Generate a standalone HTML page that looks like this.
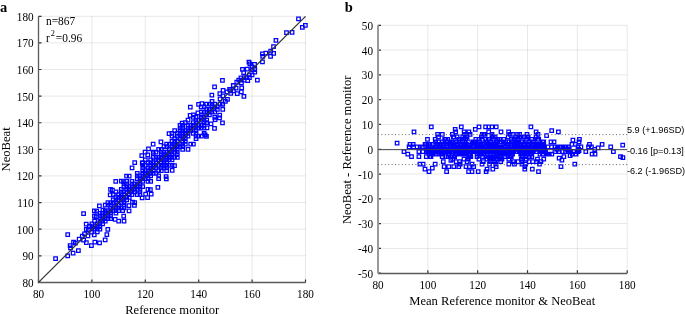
<!DOCTYPE html>
<html><head><meta charset="utf-8"><style>
html,body{margin:0;padding:0;background:#fff;}
svg{display:block;}
</style></head><body>
<svg width="685" height="314" viewBox="0 0 685 314">
<rect width="685" height="314" fill="#fff"/>
<path d="M38.5 255.79H305.5M38.5 229.18H305.5M38.5 202.57H305.5M38.5 175.96H305.5M38.5 149.35H305.5M38.5 122.74H305.5M38.5 96.13H305.5M38.5 69.52H305.5M38.5 42.91H305.5M38.5 16.3H305.5M378 248.41H627.2M378 223.62H627.2M378 198.83H627.2M378 174.04H627.2M378 149.25H627.2M378 124.46H627.2M378 99.67H627.2M378 74.88H627.2M378 50.09H627.2M378 25.3H627.2" stroke="#000" stroke-opacity="0.095" stroke-width="1" fill="none"/>
<path d="M91.9 282.4V16.3M145.3 282.4V16.3M198.7 282.4V16.3M252.1 282.4V16.3M305.5 282.4V16.3M427.84 273.2V25.3M477.68 273.2V25.3M527.52 273.2V25.3M577.36 273.2V25.3M627.2 273.2V25.3" stroke="#000" stroke-opacity="0.095" stroke-width="1" fill="none"/>
<path d="M38.5 282.4h3M38.5 255.79h3M38.5 229.18h3M38.5 202.57h3M38.5 175.96h3M38.5 149.35h3M38.5 122.74h3M38.5 96.13h3M38.5 69.52h3M38.5 42.91h3M38.5 16.3h3M38.5 282.4v-3M91.9 282.4v-3M145.3 282.4v-3M198.7 282.4v-3M252.1 282.4v-3M305.5 282.4v-3M378 273.2h3M378 248.41h3M378 223.62h3M378 198.83h3M378 174.04h3M378 149.25h3M378 124.46h3M378 99.67h3M378 74.88h3M378 50.09h3M378 25.3h3M378 273.2v-3M427.84 273.2v-3M477.68 273.2v-3M527.52 273.2v-3M577.36 273.2v-3M627.2 273.2v-3" stroke="#333333" stroke-width="1.2" fill="none"/>
<path d="M38.5 16.3V282.5H305.5" stroke="#5a5a5a" stroke-width="1.3" fill="none"/>
<path d="M378 273.5H627.2" stroke="#5a5a5a" stroke-width="1.3" fill="none"/>
<path d="M378 25.3V273.2" stroke="#999" stroke-width="2" fill="none"/>
<path d="M53.85 256.9h3.5v3.5h-3.5zM65.98 232.9h3.5v3.5h-3.5zM68.37 243.82h3.5v3.5h-3.5zM71.79 240.4h3.5v3.5h-3.5zM68.74 246.11h3.5v3.5h-3.5zM73.56 241.31h3.5v3.5h-3.5zM77.41 237.46h3.5v3.5h-3.5zM80.52 234.36h3.5v3.5h-3.5zM82.77 232.12h3.5v3.5h-3.5zM84.54 227.69h3.5v3.5h-3.5zM84.45 222.47h3.5v3.5h-3.5zM86.63 228.28h3.5v3.5h-3.5zM65.94 254.22h3.5v3.5h-3.5zM87.87 224.38h3.5v3.5h-3.5zM71.35 251.49h3.5v3.5h-3.5zM76.65 248.87h3.5v3.5h-3.5zM84.58 240.97h3.5v3.5h-3.5zM81.91 238.31h3.5v3.5h-3.5zM86.19 234.04h3.5v3.5h-3.5zM89.84 230.4h3.5v3.5h-3.5zM92.51 233.07h3.5v3.5h-3.5zM89.65 243.89h3.5v3.5h-3.5zM93.08 240.47h3.5v3.5h-3.5zM97.79 241.11h3.5v3.5h-3.5zM81.84 211.76h3.5v3.5h-3.5zM113.99 179.73h3.5v3.5h-3.5zM108.78 187.57h3.5v3.5h-3.5zM110.65 188.37h3.5v3.5h-3.5zM119.66 179.4h3.5v3.5h-3.5zM124.8 174.27h3.5v3.5h-3.5zM130.32 166.11h3.5v3.5h-3.5zM92.6 209.03h3.5v3.5h-3.5zM97.63 204.01h3.5v3.5h-3.5zM108.45 193.22h3.5v3.5h-3.5zM121.74 179.98h3.5v3.5h-3.5zM127.42 174.32h3.5v3.5h-3.5zM92.7 214.25h3.5v3.5h-3.5zM94.9 209.39h3.5v3.5h-3.5zM94.46 215.15h3.5v3.5h-3.5zM98.1 211.52h3.5v3.5h-3.5zM101.21 208.42h3.5v3.5h-3.5zM103.41 238.17h3.5v3.5h-3.5zM105.08 232.78h3.5v3.5h-3.5zM106.05 227.55h3.5v3.5h-3.5zM116.92 219.38h3.5v3.5h-3.5zM121.95 214.36h3.5v3.5h-3.5zM127.31 209.02h3.5v3.5h-3.5zM132.67 203.68h3.5v3.5h-3.5zM122.27 219.37h3.5v3.5h-3.5zM140.38 196h3.5v3.5h-3.5zM143.92 192.47h3.5v3.5h-3.5zM148.63 187.77h3.5v3.5h-3.5zM145.84 195.88h3.5v3.5h-3.5zM149.48 192.25h3.5v3.5h-3.5zM156.12 185.63h3.5v3.5h-3.5zM113.39 217.57h3.5v3.5h-3.5zM120.86 208.79h3.5v3.5h-3.5zM127.21 203.8h3.5v3.5h-3.5zM130.75 200.28h3.5v3.5h-3.5zM132.95 160.83h3.5v3.5h-3.5zM140.02 153.78h3.5v3.5h-3.5zM143.34 150.47h3.5v3.5h-3.5zM146.77 147.05h3.5v3.5h-3.5zM151.38 142.46h3.5v3.5h-3.5zM146.01 153.13h3.5v3.5h-3.5zM159.19 140h3.5v3.5h-3.5zM167.33 131.88h3.5v3.5h-3.5zM140.49 161.29h3.5v3.5h-3.5zM151.6 151.86h3.5v3.5h-3.5zM180.45 121.46h3.5v3.5h-3.5zM188.38 113.56h3.5v3.5h-3.5zM164.59 177.19h3.5v3.5h-3.5zM164.32 174.8h3.5v3.5h-3.5zM170.43 168.71h3.5v3.5h-3.5zM172.74 163.75h3.5v3.5h-3.5zM204.72 134.54h3.5v3.5h-3.5zM203.38 133.21h3.5v3.5h-3.5zM188.56 105.41h3.5v3.5h-3.5zM196.8 102.51h3.5v3.5h-3.5zM200.17 101.82h3.5v3.5h-3.5zM199.47 105.18h3.5v3.5h-3.5zM210.1 93.34h3.5v3.5h-3.5zM212.81 85.16h3.5v3.5h-3.5zM220.69 78.7h3.5v3.5h-3.5zM218.1 91.93h3.5v3.5h-3.5zM221.32 88.72h3.5v3.5h-3.5zM240.7 67.68h3.5v3.5h-3.5zM241.94 70.83h3.5v3.5h-3.5zM245.47 67.31h3.5v3.5h-3.5zM196.2 111.1h3.5v3.5h-3.5zM221.2 94.16h3.5v3.5h-3.5zM225.27 90.1h3.5v3.5h-3.5zM227.84 87.54h3.5v3.5h-3.5zM231.49 83.91h3.5v3.5h-3.5zM235.02 80.39h3.5v3.5h-3.5zM239.2 76.22h3.5v3.5h-3.5zM212.75 126.53h3.5v3.5h-3.5zM220.73 121.24h3.5v3.5h-3.5zM217.8 116.18h3.5v3.5h-3.5zM242.17 94.55h3.5v3.5h-3.5zM255.62 78.49h3.5v3.5h-3.5zM235.5 91.96h3.5v3.5h-3.5zM239.57 90.05h3.5v3.5h-3.5zM239.93 86.13h3.5v3.5h-3.5zM245.99 78.93h3.5v3.5h-3.5zM220.6 102.74h3.5v3.5h-3.5zM225.74 97.62h3.5v3.5h-3.5zM205.21 126.06h3.5v3.5h-3.5zM209.28 122h3.5v3.5h-3.5zM213.35 117.95h3.5v3.5h-3.5zM217.96 113.36h3.5v3.5h-3.5zM247.2 60.27h3.5v3.5h-3.5zM248.1 62.03h3.5v3.5h-3.5zM252.81 62.66h3.5v3.5h-3.5zM260.69 52.15h3.5v3.5h-3.5zM260.95 54.54h3.5v3.5h-3.5zM264.06 51.45h3.5v3.5h-3.5zM268.93 49.25h3.5v3.5h-3.5zM271.79 44.85h3.5v3.5h-3.5zM274.19 38.69h3.5v3.5h-3.5zM284.74 30.84h3.5v3.5h-3.5zM296.75 17.18h3.5v3.5h-3.5zM252.89 66.8h3.5v3.5h-3.5zM260.73 60.09h3.5v3.5h-3.5zM268.81 54.69h3.5v3.5h-3.5zM271.92 51.59h3.5v3.5h-3.5zM290.3 30.62h3.5v3.5h-3.5zM300.58 25.7h3.5v3.5h-3.5zM303.64 23.62h3.5v3.5h-3.5zM90.15 227.43h3.5v3.5h-3.5zM87.48 224.77h3.5v3.5h-3.5zM95.49 230.09h3.5v3.5h-3.5zM92.82 227.43h3.5v3.5h-3.5zM90.15 224.77h3.5v3.5h-3.5zM95.49 227.43h3.5v3.5h-3.5zM92.82 224.77h3.5v3.5h-3.5zM90.15 222.11h3.5v3.5h-3.5zM98.16 227.43h3.5v3.5h-3.5zM95.49 224.77h3.5v3.5h-3.5zM98.16 224.77h3.5v3.5h-3.5zM95.49 222.11h3.5v3.5h-3.5zM92.82 219.45h3.5v3.5h-3.5zM98.16 222.11h3.5v3.5h-3.5zM100.83 222.11h3.5v3.5h-3.5zM98.16 219.45h3.5v3.5h-3.5zM100.83 219.45h3.5v3.5h-3.5zM98.16 216.79h3.5v3.5h-3.5zM103.5 219.45h3.5v3.5h-3.5zM100.83 216.79h3.5v3.5h-3.5zM98.16 214.12h3.5v3.5h-3.5zM103.5 216.79h3.5v3.5h-3.5zM100.83 214.12h3.5v3.5h-3.5zM106.17 216.79h3.5v3.5h-3.5zM103.5 214.12h3.5v3.5h-3.5zM100.83 211.46h3.5v3.5h-3.5zM108.84 216.79h3.5v3.5h-3.5zM106.17 214.12h3.5v3.5h-3.5zM103.5 211.46h3.5v3.5h-3.5zM108.84 214.12h3.5v3.5h-3.5zM106.17 211.46h3.5v3.5h-3.5zM103.5 208.8h3.5v3.5h-3.5zM108.84 211.46h3.5v3.5h-3.5zM106.17 208.8h3.5v3.5h-3.5zM108.84 208.8h3.5v3.5h-3.5zM103.5 203.48h3.5v3.5h-3.5zM114.18 211.46h3.5v3.5h-3.5zM111.51 208.8h3.5v3.5h-3.5zM108.84 206.14h3.5v3.5h-3.5zM106.17 203.48h3.5v3.5h-3.5zM114.18 208.8h3.5v3.5h-3.5zM111.51 206.14h3.5v3.5h-3.5zM108.84 203.48h3.5v3.5h-3.5zM106.17 200.82h3.5v3.5h-3.5zM116.85 208.8h3.5v3.5h-3.5zM114.18 206.14h3.5v3.5h-3.5zM108.84 200.82h3.5v3.5h-3.5zM116.85 206.14h3.5v3.5h-3.5zM114.18 203.48h3.5v3.5h-3.5zM111.51 200.82h3.5v3.5h-3.5zM119.52 206.14h3.5v3.5h-3.5zM116.85 203.48h3.5v3.5h-3.5zM114.18 200.82h3.5v3.5h-3.5zM111.51 198.16h3.5v3.5h-3.5zM122.19 206.14h3.5v3.5h-3.5zM114.18 198.16h3.5v3.5h-3.5zM122.19 203.48h3.5v3.5h-3.5zM119.52 200.82h3.5v3.5h-3.5zM116.85 198.16h3.5v3.5h-3.5zM114.18 195.5h3.5v3.5h-3.5zM111.51 192.84h3.5v3.5h-3.5zM122.19 200.82h3.5v3.5h-3.5zM119.52 198.16h3.5v3.5h-3.5zM116.85 195.5h3.5v3.5h-3.5zM122.19 198.16h3.5v3.5h-3.5zM119.52 195.5h3.5v3.5h-3.5zM116.85 192.84h3.5v3.5h-3.5zM114.18 190.18h3.5v3.5h-3.5zM124.86 198.16h3.5v3.5h-3.5zM122.19 195.5h3.5v3.5h-3.5zM119.52 192.84h3.5v3.5h-3.5zM124.86 195.5h3.5v3.5h-3.5zM122.19 192.84h3.5v3.5h-3.5zM119.52 190.18h3.5v3.5h-3.5zM132.87 200.82h3.5v3.5h-3.5zM127.53 195.5h3.5v3.5h-3.5zM122.19 190.18h3.5v3.5h-3.5zM119.52 187.51h3.5v3.5h-3.5zM127.53 192.84h3.5v3.5h-3.5zM124.86 190.18h3.5v3.5h-3.5zM130.2 192.84h3.5v3.5h-3.5zM127.53 190.18h3.5v3.5h-3.5zM124.86 187.51h3.5v3.5h-3.5zM122.19 184.85h3.5v3.5h-3.5zM130.2 190.18h3.5v3.5h-3.5zM127.53 187.51h3.5v3.5h-3.5zM124.86 184.85h3.5v3.5h-3.5zM122.19 182.19h3.5v3.5h-3.5zM135.54 192.84h3.5v3.5h-3.5zM132.87 190.18h3.5v3.5h-3.5zM130.2 187.51h3.5v3.5h-3.5zM127.53 184.85h3.5v3.5h-3.5zM124.86 182.19h3.5v3.5h-3.5zM138.21 192.84h3.5v3.5h-3.5zM132.87 187.51h3.5v3.5h-3.5zM130.2 184.85h3.5v3.5h-3.5zM124.86 179.53h3.5v3.5h-3.5zM138.21 190.18h3.5v3.5h-3.5zM135.54 187.51h3.5v3.5h-3.5zM132.87 184.85h3.5v3.5h-3.5zM130.2 182.19h3.5v3.5h-3.5zM138.21 187.51h3.5v3.5h-3.5zM135.54 184.85h3.5v3.5h-3.5zM132.87 182.19h3.5v3.5h-3.5zM130.2 179.53h3.5v3.5h-3.5zM138.21 184.85h3.5v3.5h-3.5zM135.54 182.19h3.5v3.5h-3.5zM140.88 184.85h3.5v3.5h-3.5zM138.21 182.19h3.5v3.5h-3.5zM146.22 187.51h3.5v3.5h-3.5zM138.21 179.53h3.5v3.5h-3.5zM135.54 176.87h3.5v3.5h-3.5zM140.88 179.53h3.5v3.5h-3.5zM138.21 176.87h3.5v3.5h-3.5zM135.54 174.21h3.5v3.5h-3.5zM140.88 176.87h3.5v3.5h-3.5zM138.21 174.21h3.5v3.5h-3.5zM135.54 171.55h3.5v3.5h-3.5zM146.22 179.53h3.5v3.5h-3.5zM143.55 176.87h3.5v3.5h-3.5zM140.88 174.21h3.5v3.5h-3.5zM148.89 179.53h3.5v3.5h-3.5zM146.22 176.87h3.5v3.5h-3.5zM143.55 174.21h3.5v3.5h-3.5zM140.88 171.55h3.5v3.5h-3.5zM146.22 174.21h3.5v3.5h-3.5zM143.55 171.55h3.5v3.5h-3.5zM140.88 168.89h3.5v3.5h-3.5zM148.89 174.21h3.5v3.5h-3.5zM146.22 171.55h3.5v3.5h-3.5zM143.55 168.89h3.5v3.5h-3.5zM140.88 166.23h3.5v3.5h-3.5zM148.89 171.55h3.5v3.5h-3.5zM146.22 168.89h3.5v3.5h-3.5zM140.88 163.57h3.5v3.5h-3.5zM156.9 176.87h3.5v3.5h-3.5zM151.56 171.55h3.5v3.5h-3.5zM148.89 168.89h3.5v3.5h-3.5zM146.22 166.23h3.5v3.5h-3.5zM143.55 163.57h3.5v3.5h-3.5zM140.88 160.91h3.5v3.5h-3.5zM156.9 174.21h3.5v3.5h-3.5zM154.23 171.55h3.5v3.5h-3.5zM151.56 168.89h3.5v3.5h-3.5zM148.89 166.23h3.5v3.5h-3.5zM151.56 166.23h3.5v3.5h-3.5zM148.89 163.57h3.5v3.5h-3.5zM146.22 160.91h3.5v3.5h-3.5zM143.55 158.24h3.5v3.5h-3.5zM156.9 168.89h3.5v3.5h-3.5zM154.23 166.23h3.5v3.5h-3.5zM151.56 163.57h3.5v3.5h-3.5zM148.89 160.91h3.5v3.5h-3.5zM159.57 168.89h3.5v3.5h-3.5zM154.23 163.57h3.5v3.5h-3.5zM151.56 160.91h3.5v3.5h-3.5zM148.89 158.24h3.5v3.5h-3.5zM159.57 166.23h3.5v3.5h-3.5zM156.9 163.57h3.5v3.5h-3.5zM154.23 160.91h3.5v3.5h-3.5zM164.91 168.89h3.5v3.5h-3.5zM162.24 166.23h3.5v3.5h-3.5zM159.57 163.57h3.5v3.5h-3.5zM154.23 158.24h3.5v3.5h-3.5zM151.56 155.58h3.5v3.5h-3.5zM164.91 166.23h3.5v3.5h-3.5zM162.24 163.57h3.5v3.5h-3.5zM159.57 160.91h3.5v3.5h-3.5zM156.9 158.24h3.5v3.5h-3.5zM154.23 155.58h3.5v3.5h-3.5zM164.91 163.57h3.5v3.5h-3.5zM162.24 160.91h3.5v3.5h-3.5zM159.57 158.24h3.5v3.5h-3.5zM156.9 155.58h3.5v3.5h-3.5zM151.56 150.26h3.5v3.5h-3.5zM167.58 163.57h3.5v3.5h-3.5zM164.91 160.91h3.5v3.5h-3.5zM162.24 158.24h3.5v3.5h-3.5zM159.57 155.58h3.5v3.5h-3.5zM154.23 150.26h3.5v3.5h-3.5zM170.25 163.57h3.5v3.5h-3.5zM164.91 158.24h3.5v3.5h-3.5zM162.24 155.58h3.5v3.5h-3.5zM159.57 152.92h3.5v3.5h-3.5zM167.58 158.24h3.5v3.5h-3.5zM164.91 155.58h3.5v3.5h-3.5zM162.24 152.92h3.5v3.5h-3.5zM159.57 150.26h3.5v3.5h-3.5zM156.9 147.6h3.5v3.5h-3.5zM170.25 158.24h3.5v3.5h-3.5zM167.58 155.58h3.5v3.5h-3.5zM164.91 152.92h3.5v3.5h-3.5zM162.24 150.26h3.5v3.5h-3.5zM159.57 147.6h3.5v3.5h-3.5zM170.25 155.58h3.5v3.5h-3.5zM167.58 152.92h3.5v3.5h-3.5zM164.91 150.26h3.5v3.5h-3.5zM172.92 155.58h3.5v3.5h-3.5zM170.25 152.92h3.5v3.5h-3.5zM167.58 150.26h3.5v3.5h-3.5zM162.24 144.94h3.5v3.5h-3.5zM175.59 155.58h3.5v3.5h-3.5zM170.25 150.26h3.5v3.5h-3.5zM167.58 147.6h3.5v3.5h-3.5zM164.91 144.94h3.5v3.5h-3.5zM175.59 152.92h3.5v3.5h-3.5zM172.92 150.26h3.5v3.5h-3.5zM170.25 147.6h3.5v3.5h-3.5zM164.91 142.28h3.5v3.5h-3.5zM175.59 150.26h3.5v3.5h-3.5zM172.92 147.6h3.5v3.5h-3.5zM170.25 144.94h3.5v3.5h-3.5zM167.58 142.28h3.5v3.5h-3.5zM175.59 147.6h3.5v3.5h-3.5zM172.92 144.94h3.5v3.5h-3.5zM170.25 142.28h3.5v3.5h-3.5zM175.59 144.94h3.5v3.5h-3.5zM172.92 142.28h3.5v3.5h-3.5zM170.25 139.62h3.5v3.5h-3.5zM180.93 147.6h3.5v3.5h-3.5zM178.26 144.94h3.5v3.5h-3.5zM175.59 142.28h3.5v3.5h-3.5zM172.92 139.62h3.5v3.5h-3.5zM180.93 144.94h3.5v3.5h-3.5zM178.26 142.28h3.5v3.5h-3.5zM175.59 139.62h3.5v3.5h-3.5zM172.92 136.96h3.5v3.5h-3.5zM170.25 134.29h3.5v3.5h-3.5zM186.27 147.6h3.5v3.5h-3.5zM180.93 142.28h3.5v3.5h-3.5zM170.25 131.63h3.5v3.5h-3.5zM183.6 142.28h3.5v3.5h-3.5zM180.93 139.62h3.5v3.5h-3.5zM178.26 136.96h3.5v3.5h-3.5zM175.59 134.29h3.5v3.5h-3.5zM183.6 139.62h3.5v3.5h-3.5zM180.93 136.96h3.5v3.5h-3.5zM178.26 134.29h3.5v3.5h-3.5zM175.59 131.63h3.5v3.5h-3.5zM172.92 128.97h3.5v3.5h-3.5zM188.94 142.28h3.5v3.5h-3.5zM183.6 136.96h3.5v3.5h-3.5zM180.93 134.29h3.5v3.5h-3.5zM178.26 131.63h3.5v3.5h-3.5zM191.61 142.28h3.5v3.5h-3.5zM183.6 134.29h3.5v3.5h-3.5zM180.93 131.63h3.5v3.5h-3.5zM178.26 128.97h3.5v3.5h-3.5zM186.27 134.29h3.5v3.5h-3.5zM183.6 131.63h3.5v3.5h-3.5zM180.93 128.97h3.5v3.5h-3.5zM178.26 126.31h3.5v3.5h-3.5zM186.27 131.63h3.5v3.5h-3.5zM183.6 128.97h3.5v3.5h-3.5zM180.93 126.31h3.5v3.5h-3.5zM178.26 123.65h3.5v3.5h-3.5zM194.28 136.96h3.5v3.5h-3.5zM186.27 128.97h3.5v3.5h-3.5zM180.93 123.65h3.5v3.5h-3.5zM194.28 134.29h3.5v3.5h-3.5zM191.61 131.63h3.5v3.5h-3.5zM188.94 128.97h3.5v3.5h-3.5zM186.27 126.31h3.5v3.5h-3.5zM196.95 134.29h3.5v3.5h-3.5zM194.28 131.63h3.5v3.5h-3.5zM188.94 126.31h3.5v3.5h-3.5zM186.27 123.65h3.5v3.5h-3.5zM183.6 120.99h3.5v3.5h-3.5zM199.62 134.29h3.5v3.5h-3.5zM194.28 128.97h3.5v3.5h-3.5zM191.61 126.31h3.5v3.5h-3.5zM188.94 123.65h3.5v3.5h-3.5zM194.28 126.31h3.5v3.5h-3.5zM191.61 123.65h3.5v3.5h-3.5zM186.27 118.33h3.5v3.5h-3.5zM202.29 131.63h3.5v3.5h-3.5zM196.95 126.31h3.5v3.5h-3.5zM194.28 123.65h3.5v3.5h-3.5zM191.61 120.99h3.5v3.5h-3.5zM199.62 126.31h3.5v3.5h-3.5zM196.95 123.65h3.5v3.5h-3.5zM194.28 120.99h3.5v3.5h-3.5zM202.29 126.31h3.5v3.5h-3.5zM199.62 123.65h3.5v3.5h-3.5zM194.28 118.33h3.5v3.5h-3.5zM191.61 115.67h3.5v3.5h-3.5zM202.29 123.65h3.5v3.5h-3.5zM196.95 118.33h3.5v3.5h-3.5zM194.28 115.67h3.5v3.5h-3.5zM191.61 113.01h3.5v3.5h-3.5zM202.29 120.99h3.5v3.5h-3.5zM199.62 118.33h3.5v3.5h-3.5zM204.96 120.99h3.5v3.5h-3.5zM202.29 118.33h3.5v3.5h-3.5zM199.62 115.67h3.5v3.5h-3.5zM204.96 118.33h3.5v3.5h-3.5zM202.29 115.67h3.5v3.5h-3.5zM199.62 113.01h3.5v3.5h-3.5zM199.62 110.35h3.5v3.5h-3.5zM204.96 113.01h3.5v3.5h-3.5zM202.29 110.35h3.5v3.5h-3.5zM207.63 113.01h3.5v3.5h-3.5zM204.96 110.35h3.5v3.5h-3.5zM212.97 115.67h3.5v3.5h-3.5zM207.63 110.35h3.5v3.5h-3.5zM204.96 107.69h3.5v3.5h-3.5zM202.29 105.02h3.5v3.5h-3.5zM210.3 110.35h3.5v3.5h-3.5zM207.63 107.69h3.5v3.5h-3.5zM212.97 110.35h3.5v3.5h-3.5zM210.3 107.69h3.5v3.5h-3.5zM204.96 102.36h3.5v3.5h-3.5zM210.3 105.02h3.5v3.5h-3.5zM207.63 102.36h3.5v3.5h-3.5zM215.64 107.69h3.5v3.5h-3.5zM212.97 105.02h3.5v3.5h-3.5zM210.3 102.36h3.5v3.5h-3.5zM215.64 105.02h3.5v3.5h-3.5zM212.97 102.36h3.5v3.5h-3.5zM210.3 99.7h3.5v3.5h-3.5zM220.98 107.69h3.5v3.5h-3.5zM218.31 102.36h3.5v3.5h-3.5zM220.98 102.36h3.5v3.5h-3.5zM218.31 97.04h3.5v3.5h-3.5zM223.65 99.7h3.5v3.5h-3.5zM228.99 91.72h3.5v3.5h-3.5zM228.99 89.06h3.5v3.5h-3.5zM231.66 89.06h3.5v3.5h-3.5zM234.33 86.4h3.5v3.5h-3.5zM231.66 83.74h3.5v3.5h-3.5zM239.67 81.08h3.5v3.5h-3.5zM237 78.41h3.5v3.5h-3.5zM239.67 78.41h3.5v3.5h-3.5zM242.34 78.41h3.5v3.5h-3.5zM242.34 75.75h3.5v3.5h-3.5zM245.01 75.75h3.5v3.5h-3.5zM247.68 75.75h3.5v3.5h-3.5zM247.68 73.09h3.5v3.5h-3.5zM250.35 73.09h3.5v3.5h-3.5zM253.02 70.43h3.5v3.5h-3.5zM250.35 67.77h3.5v3.5h-3.5zM253.02 67.77h3.5v3.5h-3.5zM250.35 65.11h3.5v3.5h-3.5zM395.35 141.25h3.5v3.5h-3.5zM412.25 130.15h3.5v3.5h-3.5zM408.25 142.54h3.5v3.5h-3.5zM411.45 142.54h3.5v3.5h-3.5zM407.35 145.02h3.5v3.5h-3.5zM411.85 145.02h3.5v3.5h-3.5zM415.45 145.02h3.5v3.5h-3.5zM418.35 145.02h3.5v3.5h-3.5zM420.45 145.02h3.5v3.5h-3.5zM423.35 142.54h3.5v3.5h-3.5zM425.75 137.58h3.5v3.5h-3.5zM424.05 145.02h3.5v3.5h-3.5zM402.25 149.98h3.5v3.5h-3.5zM426.45 142.54h3.5v3.5h-3.5zM406.05 152.46h3.5v3.5h-3.5zM409.75 154.94h3.5v3.5h-3.5zM417.15 154.94h3.5v3.5h-3.5zM417.15 149.98h3.5v3.5h-3.5zM421.15 149.98h3.5v3.5h-3.5zM424.55 149.98h3.5v3.5h-3.5zM424.55 154.94h3.5v3.5h-3.5zM418.15 162.37h3.5v3.5h-3.5zM421.35 162.37h3.5v3.5h-3.5zM423.25 167.33h3.5v3.5h-3.5zM429.55 125.19h3.5v3.5h-3.5zM459.55 125.19h3.5v3.5h-3.5zM453.45 127.67h3.5v3.5h-3.5zM453.95 130.15h3.5v3.5h-3.5zM462.35 130.15h3.5v3.5h-3.5zM467.15 130.15h3.5v3.5h-3.5zM473.55 127.67h3.5v3.5h-3.5zM435.85 132.63h3.5v3.5h-3.5zM440.55 132.63h3.5v3.5h-3.5zM450.65 132.63h3.5v3.5h-3.5zM463.05 132.63h3.5v3.5h-3.5zM468.35 132.63h3.5v3.5h-3.5zM433.45 137.58h3.5v3.5h-3.5zM436.75 135.11h3.5v3.5h-3.5zM433.85 140.06h3.5v3.5h-3.5zM437.25 140.06h3.5v3.5h-3.5zM440.15 140.06h3.5v3.5h-3.5zM427.25 169.81h3.5v3.5h-3.5zM430.55 166.35h3.5v3.5h-3.5zM433.45 162.37h3.5v3.5h-3.5zM442.35 164.85h3.5v3.5h-3.5zM447.05 164.85h3.5v3.5h-3.5zM452.05 164.85h3.5v3.5h-3.5zM457.05 164.85h3.5v3.5h-3.5zM444.85 169.81h3.5v3.5h-3.5zM464.25 164.85h3.5v3.5h-3.5zM467.55 164.85h3.5v3.5h-3.5zM471.95 164.85h3.5v3.5h-3.5zM466.85 169.81h3.5v3.5h-3.5zM470.25 169.81h3.5v3.5h-3.5zM476.45 169.81h3.5v3.5h-3.5zM441.55 159.9h3.5v3.5h-3.5zM449.15 158.65h3.5v3.5h-3.5zM454.45 159.9h3.5v3.5h-3.5zM457.75 159.9h3.5v3.5h-3.5zM477.25 125.19h3.5v3.5h-3.5zM483.85 125.19h3.5v3.5h-3.5zM486.95 125.19h3.5v3.5h-3.5zM490.15 125.19h3.5v3.5h-3.5zM494.45 125.19h3.5v3.5h-3.5zM486.95 130.15h3.5v3.5h-3.5zM499.25 130.15h3.5v3.5h-3.5zM506.85 130.15h3.5v3.5h-3.5zM480.55 132.63h3.5v3.5h-3.5zM490.15 134.15h3.5v3.5h-3.5zM517.85 132.63h3.5v3.5h-3.5zM525.25 132.63h3.5v3.5h-3.5zM484.35 169.81h3.5v3.5h-3.5zM485.35 167.33h3.5v3.5h-3.5zM491.05 167.33h3.5v3.5h-3.5zM494.45 164.85h3.5v3.5h-3.5zM523.05 167.33h3.5v3.5h-3.5zM523.05 164.85h3.5v3.5h-3.5zM529.15 125.19h3.5v3.5h-3.5zM534.35 130.15h3.5v3.5h-3.5zM536.25 132.63h3.5v3.5h-3.5zM534.35 135.11h3.5v3.5h-3.5zM544.85 133.95h3.5v3.5h-3.5zM549.95 128.85h3.5v3.5h-3.5zM556.65 130.15h3.5v3.5h-3.5zM549.25 140.06h3.5v3.5h-3.5zM552.25 140.06h3.5v3.5h-3.5zM571.15 138.45h3.5v3.5h-3.5zM570.25 142.54h3.5v3.5h-3.5zM573.55 142.54h3.5v3.5h-3.5zM530.05 137.58h3.5v3.5h-3.5zM549.65 145.02h3.5v3.5h-3.5zM553.45 145.02h3.5v3.5h-3.5zM555.85 145.02h3.5v3.5h-3.5zM559.25 145.02h3.5v3.5h-3.5zM562.55 145.02h3.5v3.5h-3.5zM566.45 145.02h3.5v3.5h-3.5zM530.55 167.33h3.5v3.5h-3.5zM536.75 169.81h3.5v3.5h-3.5zM537.75 162.37h3.5v3.5h-3.5zM559.25 164.85h3.5v3.5h-3.5zM573.05 162.37h3.5v3.5h-3.5zM557.35 156.25h3.5v3.5h-3.5zM560.15 158.25h3.5v3.5h-3.5zM562.15 154.94h3.5v3.5h-3.5zM568.35 153.85h3.5v3.5h-3.5zM545.35 152.46h3.5v3.5h-3.5zM550.15 152.46h3.5v3.5h-3.5zM527.25 159.9h3.5v3.5h-3.5zM531.05 159.9h3.5v3.5h-3.5zM534.85 159.9h3.5v3.5h-3.5zM539.15 159.9h3.5v3.5h-3.5zM577.65 137.58h3.5v3.5h-3.5zM577.25 140.06h3.5v3.5h-3.5zM579.15 145.02h3.5v3.5h-3.5zM587.75 142.54h3.5v3.5h-3.5zM586.75 145.02h3.5v3.5h-3.5zM589.65 145.02h3.5v3.5h-3.5zM592.95 147.5h3.5v3.5h-3.5zM596.35 146.05h3.5v3.5h-3.5zM600.35 142.54h3.5v3.5h-3.5zM608.95 145.02h3.5v3.5h-3.5zM620.95 143.45h3.5v3.5h-3.5zM577.25 148.95h3.5v3.5h-3.5zM584.05 149.98h3.5v3.5h-3.5zM590.35 152.46h3.5v3.5h-3.5zM593.25 152.46h3.5v3.5h-3.5zM611.65 149.98h3.5v3.5h-3.5zM618.75 154.94h3.5v3.5h-3.5zM621.15 155.85h3.5v3.5h-3.5zM424.84 142.54h3.5v3.5h-3.5zM425.47 147.5h3.5v3.5h-3.5zM426.09 149.98h3.5v3.5h-3.5zM426.71 145.02h3.5v3.5h-3.5zM427.34 152.46h3.5v3.5h-3.5zM427.34 147.5h3.5v3.5h-3.5zM427.34 142.54h3.5v3.5h-3.5zM427.96 154.94h3.5v3.5h-3.5zM427.96 149.98h3.5v3.5h-3.5zM427.96 147.5h3.5v3.5h-3.5zM428.58 145.02h3.5v3.5h-3.5zM429.21 154.94h3.5v3.5h-3.5zM429.21 152.46h3.5v3.5h-3.5zM429.21 149.98h3.5v3.5h-3.5zM429.83 152.46h3.5v3.5h-3.5zM429.83 149.98h3.5v3.5h-3.5zM430.45 149.98h3.5v3.5h-3.5zM431.07 152.46h3.5v3.5h-3.5zM431.07 149.98h3.5v3.5h-3.5zM431.07 147.5h3.5v3.5h-3.5zM431.7 142.54h3.5v3.5h-3.5zM432.32 147.5h3.5v3.5h-3.5zM433.57 145.02h3.5v3.5h-3.5zM434.19 152.46h3.5v3.5h-3.5zM434.81 149.98h3.5v3.5h-3.5zM434.81 147.5h3.5v3.5h-3.5zM434.81 145.02h3.5v3.5h-3.5zM435.44 147.5h3.5v3.5h-3.5zM436.06 152.46h3.5v3.5h-3.5zM436.06 147.5h3.5v3.5h-3.5zM436.06 142.54h3.5v3.5h-3.5zM436.68 147.5h3.5v3.5h-3.5zM437.3 145.02h3.5v3.5h-3.5zM437.93 145.02h3.5v3.5h-3.5zM437.93 142.54h3.5v3.5h-3.5zM438.55 149.98h3.5v3.5h-3.5zM439.17 152.46h3.5v3.5h-3.5zM439.17 147.5h3.5v3.5h-3.5zM439.17 145.02h3.5v3.5h-3.5zM439.17 142.54h3.5v3.5h-3.5zM439.8 149.98h3.5v3.5h-3.5zM440.42 154.94h3.5v3.5h-3.5zM440.42 152.46h3.5v3.5h-3.5zM441.04 152.46h3.5v3.5h-3.5zM441.04 149.98h3.5v3.5h-3.5zM441.04 145.02h3.5v3.5h-3.5zM441.04 142.54h3.5v3.5h-3.5zM441.67 149.98h3.5v3.5h-3.5zM441.67 147.5h3.5v3.5h-3.5zM442.29 149.98h3.5v3.5h-3.5zM442.29 147.5h3.5v3.5h-3.5zM442.29 145.02h3.5v3.5h-3.5zM442.91 137.58h3.5v3.5h-3.5zM443.53 149.98h3.5v3.5h-3.5zM443.53 137.58h3.5v3.5h-3.5zM444.16 137.58h3.5v3.5h-3.5zM444.78 154.94h3.5v3.5h-3.5zM444.78 147.5h3.5v3.5h-3.5zM445.4 145.02h3.5v3.5h-3.5zM445.4 142.54h3.5v3.5h-3.5zM445.4 140.06h3.5v3.5h-3.5zM446.03 147.5h3.5v3.5h-3.5zM446.03 137.58h3.5v3.5h-3.5zM446.65 154.94h3.5v3.5h-3.5zM446.65 152.46h3.5v3.5h-3.5zM446.65 149.98h3.5v3.5h-3.5zM446.65 147.5h3.5v3.5h-3.5zM447.27 152.46h3.5v3.5h-3.5zM447.27 147.5h3.5v3.5h-3.5zM447.27 142.54h3.5v3.5h-3.5zM447.89 147.5h3.5v3.5h-3.5zM447.89 142.54h3.5v3.5h-3.5zM448.52 149.98h3.5v3.5h-3.5zM448.52 145.02h3.5v3.5h-3.5zM448.52 140.06h3.5v3.5h-3.5zM449.14 154.94h3.5v3.5h-3.5zM449.14 147.5h3.5v3.5h-3.5zM449.14 145.02h3.5v3.5h-3.5zM449.14 142.54h3.5v3.5h-3.5zM449.76 154.94h3.5v3.5h-3.5zM449.76 145.02h3.5v3.5h-3.5zM450.39 149.98h3.5v3.5h-3.5zM450.39 142.54h3.5v3.5h-3.5zM450.39 140.06h3.5v3.5h-3.5zM451.01 157.42h3.5v3.5h-3.5zM451.01 149.98h3.5v3.5h-3.5zM451.01 142.54h3.5v3.5h-3.5zM451.63 145.02h3.5v3.5h-3.5zM451.63 142.54h3.5v3.5h-3.5zM451.63 140.06h3.5v3.5h-3.5zM451.63 135.11h3.5v3.5h-3.5zM452.26 154.94h3.5v3.5h-3.5zM452.26 135.11h3.5v3.5h-3.5zM452.88 154.94h3.5v3.5h-3.5zM452.88 147.5h3.5v3.5h-3.5zM453.5 152.46h3.5v3.5h-3.5zM453.5 149.98h3.5v3.5h-3.5zM453.5 145.02h3.5v3.5h-3.5zM453.5 140.06h3.5v3.5h-3.5zM454.12 149.98h3.5v3.5h-3.5zM454.12 147.5h3.5v3.5h-3.5zM454.75 152.46h3.5v3.5h-3.5zM454.75 149.98h3.5v3.5h-3.5zM454.75 142.54h3.5v3.5h-3.5zM454.75 140.06h3.5v3.5h-3.5zM455.37 149.98h3.5v3.5h-3.5zM455.37 147.5h3.5v3.5h-3.5zM455.37 145.02h3.5v3.5h-3.5zM455.37 142.54h3.5v3.5h-3.5zM455.37 135.11h3.5v3.5h-3.5zM455.99 145.02h3.5v3.5h-3.5zM455.99 142.54h3.5v3.5h-3.5zM456.62 149.98h3.5v3.5h-3.5zM456.62 145.02h3.5v3.5h-3.5zM457.24 149.98h3.5v3.5h-3.5zM457.24 140.06h3.5v3.5h-3.5zM457.24 137.58h3.5v3.5h-3.5zM457.86 162.37h3.5v3.5h-3.5zM458.49 162.37h3.5v3.5h-3.5zM458.49 149.98h3.5v3.5h-3.5zM458.49 145.02h3.5v3.5h-3.5zM458.49 142.54h3.5v3.5h-3.5zM459.11 152.46h3.5v3.5h-3.5zM459.73 149.98h3.5v3.5h-3.5zM459.73 145.02h3.5v3.5h-3.5zM460.36 152.46h3.5v3.5h-3.5zM460.36 137.58h3.5v3.5h-3.5zM460.98 152.46h3.5v3.5h-3.5zM460.98 147.5h3.5v3.5h-3.5zM460.98 145.02h3.5v3.5h-3.5zM460.98 140.06h3.5v3.5h-3.5zM460.98 135.11h3.5v3.5h-3.5zM461.6 152.46h3.5v3.5h-3.5zM461.6 142.54h3.5v3.5h-3.5zM462.22 157.42h3.5v3.5h-3.5zM462.22 145.02h3.5v3.5h-3.5zM462.22 142.54h3.5v3.5h-3.5zM462.22 137.58h3.5v3.5h-3.5zM462.85 152.46h3.5v3.5h-3.5zM462.85 149.98h3.5v3.5h-3.5zM463.47 142.54h3.5v3.5h-3.5zM463.47 135.11h3.5v3.5h-3.5zM464.09 149.98h3.5v3.5h-3.5zM464.09 147.5h3.5v3.5h-3.5zM464.09 137.58h3.5v3.5h-3.5zM464.72 145.02h3.5v3.5h-3.5zM464.72 142.54h3.5v3.5h-3.5zM465.34 159.9h3.5v3.5h-3.5zM465.34 149.98h3.5v3.5h-3.5zM465.34 135.11h3.5v3.5h-3.5zM465.96 157.42h3.5v3.5h-3.5zM465.96 145.02h3.5v3.5h-3.5zM466.59 157.42h3.5v3.5h-3.5zM466.59 149.98h3.5v3.5h-3.5zM466.59 147.5h3.5v3.5h-3.5zM466.59 140.06h3.5v3.5h-3.5zM467.21 154.94h3.5v3.5h-3.5zM467.21 152.46h3.5v3.5h-3.5zM467.21 147.5h3.5v3.5h-3.5zM467.21 145.02h3.5v3.5h-3.5zM467.83 149.98h3.5v3.5h-3.5zM467.83 147.5h3.5v3.5h-3.5zM467.83 145.02h3.5v3.5h-3.5zM468.45 154.94h3.5v3.5h-3.5zM468.45 152.46h3.5v3.5h-3.5zM469.08 154.94h3.5v3.5h-3.5zM469.7 149.98h3.5v3.5h-3.5zM470.32 162.37h3.5v3.5h-3.5zM470.32 147.5h3.5v3.5h-3.5zM470.32 142.54h3.5v3.5h-3.5zM470.95 147.5h3.5v3.5h-3.5zM471.57 142.54h3.5v3.5h-3.5zM471.57 140.06h3.5v3.5h-3.5zM472.19 147.5h3.5v3.5h-3.5zM472.19 145.02h3.5v3.5h-3.5zM472.19 142.54h3.5v3.5h-3.5zM472.81 149.98h3.5v3.5h-3.5zM472.81 147.5h3.5v3.5h-3.5zM472.81 142.54h3.5v3.5h-3.5zM472.81 140.06h3.5v3.5h-3.5zM473.44 149.98h3.5v3.5h-3.5zM473.44 147.5h3.5v3.5h-3.5zM473.44 140.06h3.5v3.5h-3.5zM474.06 149.98h3.5v3.5h-3.5zM474.06 147.5h3.5v3.5h-3.5zM474.06 137.58h3.5v3.5h-3.5zM474.68 147.5h3.5v3.5h-3.5zM474.68 145.02h3.5v3.5h-3.5zM475.31 154.94h3.5v3.5h-3.5zM475.31 152.46h3.5v3.5h-3.5zM475.31 149.98h3.5v3.5h-3.5zM475.31 147.5h3.5v3.5h-3.5zM475.31 145.02h3.5v3.5h-3.5zM475.93 145.02h3.5v3.5h-3.5zM475.93 142.54h3.5v3.5h-3.5zM476.55 149.98h3.5v3.5h-3.5zM476.55 147.5h3.5v3.5h-3.5zM477.18 157.42h3.5v3.5h-3.5zM477.18 149.98h3.5v3.5h-3.5zM477.18 145.02h3.5v3.5h-3.5zM477.18 137.58h3.5v3.5h-3.5zM477.8 152.46h3.5v3.5h-3.5zM477.8 147.5h3.5v3.5h-3.5zM477.8 142.54h3.5v3.5h-3.5zM477.8 140.06h3.5v3.5h-3.5zM478.42 152.46h3.5v3.5h-3.5zM478.42 149.98h3.5v3.5h-3.5zM478.42 147.5h3.5v3.5h-3.5zM478.42 145.02h3.5v3.5h-3.5zM478.42 142.54h3.5v3.5h-3.5zM479.05 145.02h3.5v3.5h-3.5zM479.05 142.54h3.5v3.5h-3.5zM479.67 152.46h3.5v3.5h-3.5zM479.67 149.98h3.5v3.5h-3.5zM479.67 147.5h3.5v3.5h-3.5zM479.67 145.02h3.5v3.5h-3.5zM479.67 135.11h3.5v3.5h-3.5zM480.29 162.37h3.5v3.5h-3.5zM480.29 145.02h3.5v3.5h-3.5zM480.29 137.58h3.5v3.5h-3.5zM480.91 154.94h3.5v3.5h-3.5zM480.91 149.98h3.5v3.5h-3.5zM480.91 147.5h3.5v3.5h-3.5zM480.91 145.02h3.5v3.5h-3.5zM480.91 142.54h3.5v3.5h-3.5zM481.54 159.9h3.5v3.5h-3.5zM482.16 152.46h3.5v3.5h-3.5zM482.16 147.5h3.5v3.5h-3.5zM482.16 132.63h3.5v3.5h-3.5zM482.78 147.5h3.5v3.5h-3.5zM482.78 145.02h3.5v3.5h-3.5zM483.41 149.98h3.5v3.5h-3.5zM483.41 147.5h3.5v3.5h-3.5zM483.41 145.02h3.5v3.5h-3.5zM483.41 132.63h3.5v3.5h-3.5zM484.03 154.94h3.5v3.5h-3.5zM484.03 149.98h3.5v3.5h-3.5zM484.03 147.5h3.5v3.5h-3.5zM484.03 142.54h3.5v3.5h-3.5zM484.03 140.06h3.5v3.5h-3.5zM484.03 137.58h3.5v3.5h-3.5zM484.65 147.5h3.5v3.5h-3.5zM485.28 157.42h3.5v3.5h-3.5zM485.28 142.54h3.5v3.5h-3.5zM485.28 140.06h3.5v3.5h-3.5zM485.9 149.98h3.5v3.5h-3.5zM485.9 147.5h3.5v3.5h-3.5zM486.52 154.94h3.5v3.5h-3.5zM486.52 149.98h3.5v3.5h-3.5zM486.52 145.02h3.5v3.5h-3.5zM486.52 142.54h3.5v3.5h-3.5zM486.52 137.58h3.5v3.5h-3.5zM487.14 154.94h3.5v3.5h-3.5zM487.14 149.98h3.5v3.5h-3.5zM487.14 147.5h3.5v3.5h-3.5zM487.14 145.02h3.5v3.5h-3.5zM487.77 162.37h3.5v3.5h-3.5zM487.77 157.42h3.5v3.5h-3.5zM487.77 154.94h3.5v3.5h-3.5zM487.77 145.02h3.5v3.5h-3.5zM487.77 137.58h3.5v3.5h-3.5zM488.39 149.98h3.5v3.5h-3.5zM488.39 145.02h3.5v3.5h-3.5zM488.39 142.54h3.5v3.5h-3.5zM489.01 159.9h3.5v3.5h-3.5zM489.01 157.42h3.5v3.5h-3.5zM489.01 154.94h3.5v3.5h-3.5zM489.01 152.46h3.5v3.5h-3.5zM489.01 145.02h3.5v3.5h-3.5zM489.01 140.06h3.5v3.5h-3.5zM489.64 157.42h3.5v3.5h-3.5zM489.64 149.98h3.5v3.5h-3.5zM489.64 147.5h3.5v3.5h-3.5zM490.26 157.42h3.5v3.5h-3.5zM490.26 149.98h3.5v3.5h-3.5zM490.26 142.54h3.5v3.5h-3.5zM490.26 132.63h3.5v3.5h-3.5zM490.88 154.94h3.5v3.5h-3.5zM490.88 149.98h3.5v3.5h-3.5zM491.5 147.5h3.5v3.5h-3.5zM491.5 145.02h3.5v3.5h-3.5zM491.5 142.54h3.5v3.5h-3.5zM491.5 135.11h3.5v3.5h-3.5zM492.13 157.42h3.5v3.5h-3.5zM492.13 152.46h3.5v3.5h-3.5zM492.13 149.98h3.5v3.5h-3.5zM492.13 145.02h3.5v3.5h-3.5zM492.13 142.54h3.5v3.5h-3.5zM492.75 159.9h3.5v3.5h-3.5zM492.75 147.5h3.5v3.5h-3.5zM492.75 145.02h3.5v3.5h-3.5zM493.37 154.94h3.5v3.5h-3.5zM493.37 149.98h3.5v3.5h-3.5zM493.37 142.54h3.5v3.5h-3.5zM493.37 135.11h3.5v3.5h-3.5zM494 162.37h3.5v3.5h-3.5zM494 154.94h3.5v3.5h-3.5zM494 145.02h3.5v3.5h-3.5zM494 140.06h3.5v3.5h-3.5zM494.62 152.46h3.5v3.5h-3.5zM494.62 142.54h3.5v3.5h-3.5zM495.24 157.42h3.5v3.5h-3.5zM495.24 149.98h3.5v3.5h-3.5zM495.24 147.5h3.5v3.5h-3.5zM495.24 145.02h3.5v3.5h-3.5zM495.24 140.06h3.5v3.5h-3.5zM495.87 154.94h3.5v3.5h-3.5zM495.87 147.5h3.5v3.5h-3.5zM495.87 145.02h3.5v3.5h-3.5zM495.87 137.58h3.5v3.5h-3.5zM496.49 149.98h3.5v3.5h-3.5zM497.11 152.46h3.5v3.5h-3.5zM497.74 157.42h3.5v3.5h-3.5zM497.74 154.94h3.5v3.5h-3.5zM497.74 152.46h3.5v3.5h-3.5zM497.74 147.5h3.5v3.5h-3.5zM497.74 145.02h3.5v3.5h-3.5zM497.74 137.58h3.5v3.5h-3.5zM498.36 157.42h3.5v3.5h-3.5zM498.36 152.46h3.5v3.5h-3.5zM498.36 149.98h3.5v3.5h-3.5zM498.98 159.9h3.5v3.5h-3.5zM498.98 149.98h3.5v3.5h-3.5zM498.98 145.02h3.5v3.5h-3.5zM499.6 152.46h3.5v3.5h-3.5zM499.6 149.98h3.5v3.5h-3.5zM499.6 147.5h3.5v3.5h-3.5zM499.6 145.02h3.5v3.5h-3.5zM499.6 140.06h3.5v3.5h-3.5zM500.23 157.42h3.5v3.5h-3.5zM500.23 147.5h3.5v3.5h-3.5zM500.23 145.02h3.5v3.5h-3.5zM500.85 149.98h3.5v3.5h-3.5zM500.85 147.5h3.5v3.5h-3.5zM501.47 152.46h3.5v3.5h-3.5zM501.47 140.06h3.5v3.5h-3.5zM502.1 152.46h3.5v3.5h-3.5zM502.1 137.58h3.5v3.5h-3.5zM502.72 154.94h3.5v3.5h-3.5zM502.72 152.46h3.5v3.5h-3.5zM502.72 147.5h3.5v3.5h-3.5zM502.72 142.54h3.5v3.5h-3.5zM503.34 152.46h3.5v3.5h-3.5zM503.34 145.02h3.5v3.5h-3.5zM503.97 152.46h3.5v3.5h-3.5zM503.97 145.02h3.5v3.5h-3.5zM503.97 140.06h3.5v3.5h-3.5zM504.59 152.46h3.5v3.5h-3.5zM504.59 149.98h3.5v3.5h-3.5zM504.59 147.5h3.5v3.5h-3.5zM504.59 142.54h3.5v3.5h-3.5zM505.21 142.54h3.5v3.5h-3.5zM505.83 152.46h3.5v3.5h-3.5zM505.83 147.5h3.5v3.5h-3.5zM505.83 142.54h3.5v3.5h-3.5zM506.46 152.46h3.5v3.5h-3.5zM506.46 149.98h3.5v3.5h-3.5zM506.46 147.5h3.5v3.5h-3.5zM506.46 145.02h3.5v3.5h-3.5zM506.46 135.11h3.5v3.5h-3.5zM507.08 162.37h3.5v3.5h-3.5zM507.08 157.42h3.5v3.5h-3.5zM507.08 145.02h3.5v3.5h-3.5zM507.08 140.06h3.5v3.5h-3.5zM507.7 152.46h3.5v3.5h-3.5zM508.33 154.94h3.5v3.5h-3.5zM508.33 149.98h3.5v3.5h-3.5zM508.33 132.63h3.5v3.5h-3.5zM508.95 149.98h3.5v3.5h-3.5zM508.95 145.02h3.5v3.5h-3.5zM509.57 154.94h3.5v3.5h-3.5zM509.57 152.46h3.5v3.5h-3.5zM509.57 140.06h3.5v3.5h-3.5zM509.57 137.58h3.5v3.5h-3.5zM510.2 145.02h3.5v3.5h-3.5zM510.82 152.46h3.5v3.5h-3.5zM510.82 147.5h3.5v3.5h-3.5zM510.82 142.54h3.5v3.5h-3.5zM510.82 132.63h3.5v3.5h-3.5zM511.44 159.9h3.5v3.5h-3.5zM511.44 149.98h3.5v3.5h-3.5zM512.06 159.9h3.5v3.5h-3.5zM512.06 149.98h3.5v3.5h-3.5zM512.06 137.58h3.5v3.5h-3.5zM512.69 162.37h3.5v3.5h-3.5zM512.69 142.54h3.5v3.5h-3.5zM513.31 145.02h3.5v3.5h-3.5zM513.31 142.54h3.5v3.5h-3.5zM513.31 140.06h3.5v3.5h-3.5zM513.31 137.58h3.5v3.5h-3.5zM513.93 149.98h3.5v3.5h-3.5zM513.93 142.54h3.5v3.5h-3.5zM513.93 140.06h3.5v3.5h-3.5zM513.93 135.11h3.5v3.5h-3.5zM514.56 149.98h3.5v3.5h-3.5zM514.56 147.5h3.5v3.5h-3.5zM514.56 145.02h3.5v3.5h-3.5zM514.56 142.54h3.5v3.5h-3.5zM515.18 142.54h3.5v3.5h-3.5zM515.18 140.06h3.5v3.5h-3.5zM515.8 147.5h3.5v3.5h-3.5zM515.8 145.02h3.5v3.5h-3.5zM515.8 142.54h3.5v3.5h-3.5zM515.8 140.06h3.5v3.5h-3.5zM515.8 132.63h3.5v3.5h-3.5zM516.42 159.9h3.5v3.5h-3.5zM516.42 145.02h3.5v3.5h-3.5zM516.42 137.58h3.5v3.5h-3.5zM517.05 145.02h3.5v3.5h-3.5zM517.67 145.02h3.5v3.5h-3.5zM517.67 142.54h3.5v3.5h-3.5zM518.29 147.5h3.5v3.5h-3.5zM518.29 145.02h3.5v3.5h-3.5zM518.29 135.11h3.5v3.5h-3.5zM518.92 152.46h3.5v3.5h-3.5zM518.92 147.5h3.5v3.5h-3.5zM519.54 157.42h3.5v3.5h-3.5zM519.54 152.46h3.5v3.5h-3.5zM519.54 147.5h3.5v3.5h-3.5zM519.54 145.02h3.5v3.5h-3.5zM519.54 142.54h3.5v3.5h-3.5zM519.54 140.06h3.5v3.5h-3.5zM519.54 135.11h3.5v3.5h-3.5zM520.16 162.37h3.5v3.5h-3.5zM520.16 159.9h3.5v3.5h-3.5zM520.16 147.5h3.5v3.5h-3.5zM520.16 145.02h3.5v3.5h-3.5zM520.16 140.06h3.5v3.5h-3.5zM520.79 154.94h3.5v3.5h-3.5zM520.79 152.46h3.5v3.5h-3.5zM520.79 147.5h3.5v3.5h-3.5zM520.79 140.06h3.5v3.5h-3.5zM521.41 149.98h3.5v3.5h-3.5zM521.41 147.5h3.5v3.5h-3.5zM521.41 145.02h3.5v3.5h-3.5zM521.41 135.11h3.5v3.5h-3.5zM522.03 149.98h3.5v3.5h-3.5zM522.03 145.02h3.5v3.5h-3.5zM522.03 142.54h3.5v3.5h-3.5zM522.65 149.98h3.5v3.5h-3.5zM523.28 147.5h3.5v3.5h-3.5zM523.9 162.37h3.5v3.5h-3.5zM523.9 154.94h3.5v3.5h-3.5zM523.9 149.98h3.5v3.5h-3.5zM523.9 147.5h3.5v3.5h-3.5zM523.9 145.02h3.5v3.5h-3.5zM524.52 157.42h3.5v3.5h-3.5zM524.52 154.94h3.5v3.5h-3.5zM524.52 152.46h3.5v3.5h-3.5zM524.52 145.02h3.5v3.5h-3.5zM525.15 149.98h3.5v3.5h-3.5zM525.15 145.02h3.5v3.5h-3.5zM525.15 137.58h3.5v3.5h-3.5zM525.77 152.46h3.5v3.5h-3.5zM525.77 142.54h3.5v3.5h-3.5zM526.39 152.46h3.5v3.5h-3.5zM526.39 145.02h3.5v3.5h-3.5zM526.39 135.11h3.5v3.5h-3.5zM527.02 145.02h3.5v3.5h-3.5zM527.02 142.54h3.5v3.5h-3.5zM527.02 140.06h3.5v3.5h-3.5zM527.64 154.94h3.5v3.5h-3.5zM527.64 147.5h3.5v3.5h-3.5zM528.26 152.46h3.5v3.5h-3.5zM528.26 147.5h3.5v3.5h-3.5zM528.88 145.02h3.5v3.5h-3.5zM529.51 152.46h3.5v3.5h-3.5zM529.51 149.98h3.5v3.5h-3.5zM529.51 145.02h3.5v3.5h-3.5zM530.13 154.94h3.5v3.5h-3.5zM530.13 152.46h3.5v3.5h-3.5zM530.13 145.02h3.5v3.5h-3.5zM530.75 149.98h3.5v3.5h-3.5zM530.75 145.02h3.5v3.5h-3.5zM530.75 142.54h3.5v3.5h-3.5zM531.38 142.54h3.5v3.5h-3.5zM531.38 140.06h3.5v3.5h-3.5zM532 147.5h3.5v3.5h-3.5zM532 142.54h3.5v3.5h-3.5zM532.62 147.5h3.5v3.5h-3.5zM533.25 147.5h3.5v3.5h-3.5zM533.87 142.54h3.5v3.5h-3.5zM534.49 149.98h3.5v3.5h-3.5zM534.49 147.5h3.5v3.5h-3.5zM534.49 142.54h3.5v3.5h-3.5zM535.12 149.98h3.5v3.5h-3.5zM535.12 145.02h3.5v3.5h-3.5zM535.74 157.42h3.5v3.5h-3.5zM535.74 147.5h3.5v3.5h-3.5zM535.74 142.54h3.5v3.5h-3.5zM535.74 137.58h3.5v3.5h-3.5zM536.36 147.5h3.5v3.5h-3.5zM536.36 145.02h3.5v3.5h-3.5zM536.98 147.5h3.5v3.5h-3.5zM536.98 145.02h3.5v3.5h-3.5zM536.98 142.54h3.5v3.5h-3.5zM536.98 137.58h3.5v3.5h-3.5zM537.61 145.02h3.5v3.5h-3.5zM538.23 152.46h3.5v3.5h-3.5zM538.23 149.98h3.5v3.5h-3.5zM538.23 145.02h3.5v3.5h-3.5zM538.85 147.5h3.5v3.5h-3.5zM539.48 142.54h3.5v3.5h-3.5zM540.1 145.02h3.5v3.5h-3.5zM540.72 152.46h3.5v3.5h-3.5zM540.72 142.54h3.5v3.5h-3.5zM540.72 140.06h3.5v3.5h-3.5zM541.35 145.02h3.5v3.5h-3.5zM541.97 157.42h3.5v3.5h-3.5zM541.97 149.98h3.5v3.5h-3.5zM541.97 147.5h3.5v3.5h-3.5zM541.97 145.02h3.5v3.5h-3.5zM541.97 142.54h3.5v3.5h-3.5zM541.97 140.06h3.5v3.5h-3.5zM542.59 149.98h3.5v3.5h-3.5zM542.59 145.02h3.5v3.5h-3.5zM543.84 149.98h3.5v3.5h-3.5zM546.33 152.46h3.5v3.5h-3.5zM546.33 145.02h3.5v3.5h-3.5zM547.58 152.46h3.5v3.5h-3.5zM553.18 149.98h3.5v3.5h-3.5zM555.05 147.5h3.5v3.5h-3.5zM555.67 147.5h3.5v3.5h-3.5zM557.54 149.98h3.5v3.5h-3.5zM558.17 145.02h3.5v3.5h-3.5zM560.04 145.02h3.5v3.5h-3.5zM560.66 149.98h3.5v3.5h-3.5zM563.77 149.98h3.5v3.5h-3.5zM563.77 145.02h3.5v3.5h-3.5zM564.4 145.02h3.5v3.5h-3.5zM565.64 147.5h3.5v3.5h-3.5zM566.27 149.98h3.5v3.5h-3.5zM567.51 147.5h3.5v3.5h-3.5zM568.76 149.98h3.5v3.5h-3.5zM570.63 152.46h3.5v3.5h-3.5zM571.87 149.98h3.5v3.5h-3.5zM573.74 152.46h3.5v3.5h-3.5zM574.36 152.46h3.5v3.5h-3.5zM576.23 149.98h3.5v3.5h-3.5zM576.23 145.02h3.5v3.5h-3.5zM576.86 147.5h3.5v3.5h-3.5z" stroke="#0000ff" stroke-width="1.25" fill="none"/>
<path d="M38.5 282.4L305.5 16.3" stroke="#303030" stroke-width="1.2" fill="none"/>
<path d="M378 149.65H627.2" stroke="#444" stroke-width="1" fill="none"/>
<path d="M378 134.62H627.2M378 164.62H627.2" stroke="#666" stroke-width="1" stroke-dasharray="1 2.4" fill="none"/>
<g font-family="'Liberation Serif','Times New Roman',serif" fill="#000"><text transform="translate(33.6 286.9) scale(1 1.08)" font-size="11.2" text-anchor="end">80</text><text transform="translate(33.6 260.29) scale(1 1.08)" font-size="11.2" text-anchor="end">90</text><text transform="translate(33.6 233.68) scale(1 1.08)" font-size="11.2" text-anchor="end">100</text><text transform="translate(33.6 207.07) scale(1 1.08)" font-size="11.2" text-anchor="end">110</text><text transform="translate(33.6 180.46) scale(1 1.08)" font-size="11.2" text-anchor="end">120</text><text transform="translate(33.6 153.85) scale(1 1.08)" font-size="11.2" text-anchor="end">130</text><text transform="translate(33.6 127.24) scale(1 1.08)" font-size="11.2" text-anchor="end">140</text><text transform="translate(33.6 100.63) scale(1 1.08)" font-size="11.2" text-anchor="end">150</text><text transform="translate(33.6 74.02) scale(1 1.08)" font-size="11.2" text-anchor="end">160</text><text transform="translate(33.6 47.41) scale(1 1.08)" font-size="11.2" text-anchor="end">170</text><text transform="translate(33.6 20.8) scale(1 1.08)" font-size="11.2" text-anchor="end">180</text><text transform="translate(38.5 298.2) scale(1 1.08)" font-size="11.2" text-anchor="middle">80</text><text transform="translate(91.9 298.2) scale(1 1.08)" font-size="11.2" text-anchor="middle">100</text><text transform="translate(145.3 298.2) scale(1 1.08)" font-size="11.2" text-anchor="middle">120</text><text transform="translate(198.7 298.2) scale(1 1.08)" font-size="11.2" text-anchor="middle">140</text><text transform="translate(252.1 298.2) scale(1 1.08)" font-size="11.2" text-anchor="middle">160</text><text transform="translate(305.5 298.2) scale(1 1.08)" font-size="11.2" text-anchor="middle">180</text><text transform="translate(373 277.8) scale(1 1.08)" font-size="11.2" text-anchor="end">-50</text><text transform="translate(373 253.01) scale(1 1.08)" font-size="11.2" text-anchor="end">-40</text><text transform="translate(373 228.22) scale(1 1.08)" font-size="11.2" text-anchor="end">-30</text><text transform="translate(373 203.43) scale(1 1.08)" font-size="11.2" text-anchor="end">-20</text><text transform="translate(373 178.64) scale(1 1.08)" font-size="11.2" text-anchor="end">-10</text><text transform="translate(373 153.85) scale(1 1.08)" font-size="11.2" text-anchor="end">0</text><text transform="translate(373 129.06) scale(1 1.08)" font-size="11.2" text-anchor="end">10</text><text transform="translate(373 104.27) scale(1 1.08)" font-size="11.2" text-anchor="end">20</text><text transform="translate(373 79.48) scale(1 1.08)" font-size="11.2" text-anchor="end">30</text><text transform="translate(373 54.69) scale(1 1.08)" font-size="11.2" text-anchor="end">40</text><text transform="translate(373 29.9) scale(1 1.08)" font-size="11.2" text-anchor="end">50</text><text transform="translate(378 289.3) scale(1 1.08)" font-size="11.2" text-anchor="middle">80</text><text transform="translate(427.84 289.3) scale(1 1.08)" font-size="11.2" text-anchor="middle">100</text><text transform="translate(477.68 289.3) scale(1 1.08)" font-size="11.2" text-anchor="middle">120</text><text transform="translate(527.52 289.3) scale(1 1.08)" font-size="11.2" text-anchor="middle">140</text><text transform="translate(577.36 289.3) scale(1 1.08)" font-size="11.2" text-anchor="middle">160</text><text transform="translate(627.2 289.3) scale(1 1.08)" font-size="11.2" text-anchor="middle">180</text></g>
<g font-family="'Liberation Serif','Times New Roman',serif" fill="#000"><text transform="translate(172.2 314) scale(1 1.03)" font-size="12.6" text-anchor="middle">Reference monitor</text><text transform="translate(502.2 304.9) scale(1 1.03)" font-size="12.6" text-anchor="middle">Mean Reference monitor &amp; NeoBeat</text><text transform="translate(9.8 149.4) rotate(-90) scale(1 1.0)" font-size="12.6" text-anchor="middle">NeoBeat</text><text transform="translate(351.3 149.8) rotate(-90) scale(1 1.0)" font-size="12.6" text-anchor="middle">NeoBeat - Reference monitor</text></g>
<g font-family="'Liberation Serif','Times New Roman',serif" font-weight="bold" fill="#000"><text transform="translate(0 12.2) scale(1 1.0)" font-size="14.5">a</text><text transform="translate(344.7 12.2) scale(1 1.0)" font-size="14.5">b</text></g>
<g font-family="'Liberation Serif','Times New Roman',serif" fill="#000"><text transform="translate(46 24.8) scale(1 1.08)" font-size="11.4">n=867</text><text transform="translate(46 41.6) scale(1 1.08)" font-size="11.4">r</text><text transform="translate(50.8 36.3) scale(1 1.08)" font-size="8.3">2</text><text transform="translate(55.8 41.6) scale(1 1.08)" font-size="11.4">=0.96</text></g>
<g font-family="'Liberation Sans',Arial,sans-serif" fill="#000"><text transform="translate(626.9 132.5) scale(1 1.0)" font-size="9.2">5.9 (+1.96SD)</text><text transform="translate(626.9 153.6) scale(1 1.0)" font-size="9.2">-0.16 [p=0.13]</text><text transform="translate(626.9 174.4) scale(1 1.0)" font-size="9.2">-6.2 (-1.96SD)</text></g>
</svg></body></html>
